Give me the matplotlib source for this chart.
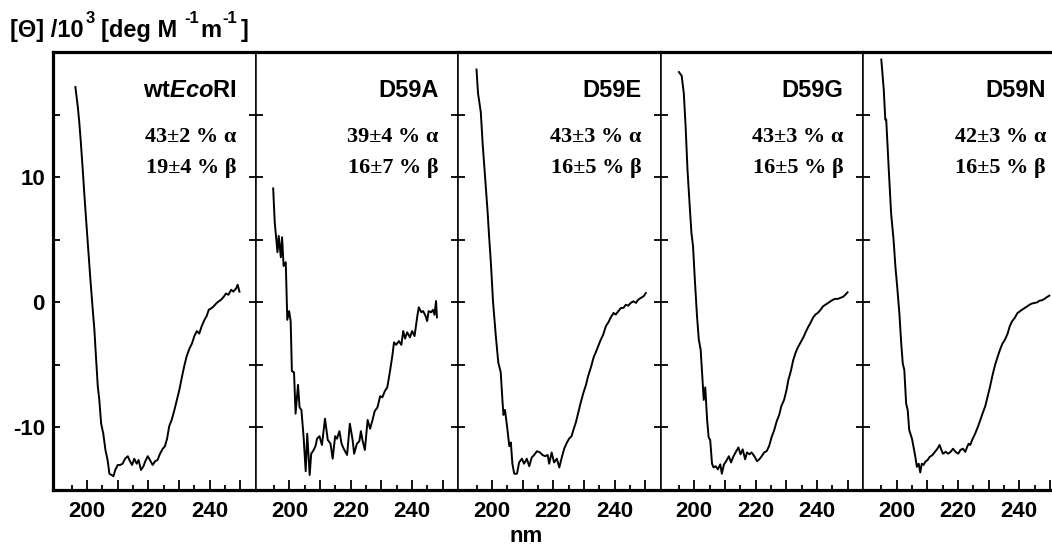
import matplotlib

matplotlib.use("Agg")
import matplotlib.pyplot as plt
from matplotlib.ticker import FixedLocator, FixedFormatter

# CD spectra, [Theta]/10^3 deg M-1 m-1 vs wavelength (nm)
wl_wt = [196.2, 197.0, 197.5, 198.0, 198.6, 199.1, 199.7, 200.4, 201.1, 201.8,
         202.4, 202.9, 203.5, 204.0, 204.6, 205.3, 206.0, 206.7, 207.3, 208.0,
         208.6, 209.2, 210.0, 210.8, 211.6, 212.4, 213.3, 214.0, 214.7, 215.4,
         216.2, 216.8, 217.6, 218.4, 219.0, 219.8, 220.5, 221.4, 222.2, 223.0,
         223.8, 224.7, 225.4, 226.1, 226.8, 227.6, 228.5, 229.2, 230.1, 231.0,
         231.7, 232.5, 233.4, 234.2, 235.0, 235.8, 236.6, 237.4, 238.3, 239.0,
         239.7, 240.4, 241.2, 242.1, 242.8, 243.7, 244.6, 245.3, 246.1, 247.0,
         247.7, 248.6, 249.1, 249.7]
cd_wt = [17.2, 15.6, 14.3, 12.7, 10.6, 8.7, 6.6, 4.2, 1.8, -0.4,
         -2.2, -4.3, -6.7, -7.8, -9.7, -10.5, -11.8, -12.6, -13.7, -13.8,
         -13.9, -13.4, -13.0, -13.0, -12.9, -12.5, -12.3, -12.7, -13.0, -12.5,
         -12.9, -12.6, -13.4, -13.1, -12.7, -12.3, -12.6, -13.0, -12.7, -12.6,
         -12.1, -11.7, -11.5, -10.9, -9.9, -9.4, -8.6, -7.9, -7.0, -5.9,
         -5.1, -4.3, -3.7, -3.3, -2.7, -2.3, -2.5, -1.9, -1.4, -1.1,
         -0.6, -0.5, -0.35, -0.1, 0.05, 0.2, 0.45, 0.7, 0.6, 1.0,
         0.85, 1.1, 1.4, 0.85]

wl_a = [194.7, 195.2, 196.1, 196.5, 197.2, 197.6, 198.1, 198.8, 199.3, 199.9,
        200.4, 200.8, 201.5, 202.0, 202.8, 203.3, 203.9, 204.6, 205.3, 205.8,
        206.6, 207.1, 207.9, 208.5, 209.0, 209.8, 210.6, 211.6, 212.5, 213.4,
        214.1, 214.9, 215.5, 216.3, 217.0, 217.7, 218.8, 219.7, 220.6, 221.1,
        222.0, 222.8, 223.3, 223.8, 224.6, 225.5, 226.3, 227.1, 227.8, 228.7,
        229.6, 230.3, 231.1, 231.9, 232.8, 233.6, 234.1, 234.8, 235.7, 236.5,
        237.1, 237.7, 238.4, 239.3, 240.0, 240.8, 241.7, 242.2, 243.0, 243.6,
        244.4, 244.9, 245.4, 246.2, 246.8, 247.3, 247.8, 248.1]
cd_a = [9.1, 6.4, 4.0, 5.3, 3.6, 5.2, 2.9, 3.2, -1.4, -0.7,
        -1.5, -5.5, -5.6, -8.9, -6.6, -8.4, -8.6, -10.7, -13.5, -10.5,
        -13.8, -12.1, -11.8, -11.5, -10.9, -10.7, -11.4, -9.3, -11.0, -11.3,
        -12.5, -10.7, -10.9, -10.3, -11.3, -11.7, -12.2, -9.7, -11.0, -12.1,
        -11.3, -11.1, -10.3, -11.0, -11.8, -9.4, -10.1, -9.4, -8.7, -8.4,
        -7.5, -7.6, -7.1, -6.8, -5.5, -4.2, -3.2, -3.4, -3.1, -3.4,
        -2.3, -2.9, -2.4, -2.8, -2.3, -2.7, -1.1, -0.4, -0.8, -0.7,
        -1.1, -1.5, -0.7, -0.8, -0.6, -1.0, 0.1, -1.2]

wl_e = [195.0, 195.5, 196.4, 197.0, 197.8, 198.6, 199.1, 199.7, 200.4, 201.3,
        202.1, 202.9, 203.5, 203.8, 204.3, 205.1, 205.7, 206.2, 206.7, 207.3,
        208.2, 208.9, 209.8, 210.5, 211.4, 212.2, 213.0, 213.8, 214.7, 215.7,
        216.5, 217.4, 218.2, 218.7, 219.5, 220.3, 221.2, 222.0, 222.7, 223.6,
        224.5, 225.2, 226.0, 226.6, 227.4, 228.2, 229.0, 229.9, 230.7, 231.4,
        232.3, 233.2, 233.9, 234.7, 235.5, 236.3, 237.2, 238.0, 238.8, 239.7,
        240.4, 241.3, 242.1, 242.9, 243.7, 244.5, 245.3, 246.2, 247.0, 247.7,
        248.6, 249.5, 250.2]
cd_e = [18.6, 16.7, 15.2, 12.7, 10.0, 7.3, 5.3, 3.1, 0.0, -2.7,
        -4.8, -5.6, -8.0, -9.0, -8.6, -10.2, -11.5, -11.2, -12.9, -13.7,
        -13.7, -12.8, -12.5, -12.9, -12.5, -13.1, -12.4, -12.2, -11.9, -12.0,
        -12.2, -12.3, -12.2, -12.9, -12.0, -12.8, -12.5, -13.2, -12.5, -11.7,
        -11.2, -10.9, -10.7, -10.2, -9.6, -8.8, -8.0, -7.2, -6.6, -5.9,
        -5.2, -4.4, -4.0, -3.5, -3.0, -2.6, -1.9, -1.6, -1.2, -0.85,
        -0.98, -0.7, -0.45, -0.45, -0.2, -0.27, -0.05, 0.08, -0.05, 0.2,
        0.35, 0.48, 0.74]

wl_g = [195.0, 195.9, 196.6, 197.2, 197.8, 198.6, 199.1, 199.6, 200.2, 200.9,
        201.5, 202.1, 202.7, 203.1, 203.6, 204.2, 204.7, 205.2, 205.8, 206.3,
        207.0, 207.7, 208.5, 209.0, 209.7, 210.4, 211.3, 212.0, 212.8, 213.7,
        214.4, 215.1, 215.8, 216.6, 217.2, 218.0, 218.7, 219.6, 220.5, 221.2,
        222.0, 222.8, 223.6, 224.4, 225.2, 226.1, 226.9, 227.7, 228.4, 229.3,
        230.1, 230.7, 231.5, 232.3, 233.1, 233.8, 234.7, 235.6, 236.3, 237.1,
        237.9, 238.7, 239.5, 240.3, 241.2, 242.0, 242.8, 243.7, 244.4, 245.3,
        246.0, 246.8, 247.6, 248.5, 249.3, 250.0]
cd_g = [18.4, 18.1, 16.7, 14.0, 10.6, 7.4, 5.5, 4.5, 1.8, -1.1,
        -3.0, -3.8, -6.2, -7.8, -6.8, -9.4, -10.8, -11.0, -12.9, -13.2,
        -13.1, -13.35, -12.95, -13.7, -12.95, -12.7, -12.3, -12.8, -12.3, -11.9,
        -11.6, -12.15, -11.75, -12.55, -12.0, -12.15, -12.0, -12.3, -12.7, -12.55,
        -12.3, -12.0, -11.9, -11.5, -10.8, -10.2, -9.5, -9.0, -8.3, -7.8,
        -7.0, -6.2, -5.5, -4.6, -4.0, -3.6, -3.2, -2.8, -2.4, -2.0,
        -1.65, -1.25, -0.98, -0.85, -0.6, -0.32, -0.19, -0.05, 0.08, 0.21,
        0.27, 0.27, 0.35, 0.43, 0.61, 0.8]

wl_n = [195.0, 195.8, 196.3, 196.6, 197.5, 198.2, 199.0, 199.6, 200.2, 200.9,
        201.5, 202.0, 202.5, 203.1, 203.6, 204.1, 205.0, 205.5, 206.1, 206.6,
        207.2, 207.7, 208.2, 208.8, 209.3, 210.1, 210.8, 211.7, 212.5, 213.3,
        214.0, 214.6, 215.1, 216.0, 216.8, 217.6, 218.4, 219.2, 220.1, 220.8,
        221.6, 222.4, 223.0, 223.5, 224.0, 224.8, 225.6, 226.5, 227.3, 228.0,
        228.9, 229.7, 230.5, 231.2, 232.1, 233.0, 233.7, 234.5, 235.3, 236.2,
        236.9, 237.7, 238.5, 239.4, 240.2, 240.9, 241.8, 242.6, 243.4, 244.1,
        245.0, 245.9, 246.6, 247.4, 248.2, 249.1, 249.8]
cd_n = [19.4, 17.0, 14.6, 14.6, 10.3, 7.1, 5.0, 2.85, 1.2, -0.9,
        -3.3, -4.9, -5.4, -8.1, -8.6, -10.2, -10.9, -11.55, -12.35, -13.15,
        -12.9, -13.6, -12.9, -13.0, -12.75, -12.6, -12.35, -12.2, -11.95, -11.7,
        -11.4, -11.8, -12.1, -11.95, -12.1, -11.95, -11.7, -11.95, -12.1, -11.8,
        -11.7, -11.95, -11.55, -11.3, -11.4, -10.9, -10.5, -9.95, -9.4, -8.9,
        -8.3, -7.5, -6.7, -5.9, -5.0, -4.3, -3.8, -3.3, -3.0, -2.5,
        -1.9, -1.5, -1.25, -0.86, -0.72, -0.59, -0.45, -0.32, -0.19, -0.1,
        -0.05, 0.0, 0.13, 0.16, 0.27, 0.43, 0.53]

names = [r"wt$\mathit{Eco}$RI", "D59A", "D59E", "D59G", "D59N"]
alpha_txt = ["43±2 % α", "39±4 % α", "43±3 % α", "43±3 % α", "42±3 % α"]
beta_txt = ["19±4 % β", "16±7 % β", "16±5 % β", "16±5 % β", "16±5 % β"]
curves = [(wl_wt, cd_wt), (wl_a, cd_a), (wl_e, cd_e), (wl_g, cd_g), (wl_n, cd_n)]

plt.rcParams.update({
    "font.family": "Liberation Sans",
    "font.weight": "bold",
    "mathtext.fontset": "custom",
    "mathtext.rm": "Liberation Sans:bold",
    "mathtext.it": "Liberation Sans:bold:italic",
    "mathtext.bf": "Liberation Sans:bold",
    "mathtext.default": "rm",
    "axes.unicode_minus": False,
})

W, H = 1052, 556
fig = plt.figure(figsize=(W / 100, H / 100), dpi=100)

panel_w = 202.4
for i, (wl, cd) in enumerate(curves):
    left = 53.3 + panel_w * i
    ax = fig.add_axes([left / W, (H - 490) / H, panel_w / W, 438 / H])
    ax.plot(wl, cd, color="black", lw=1.4)
    ax.set_xlim(189, 255)
    ax.set_ylim(-15, 20)

    ax.xaxis.set_major_locator(FixedLocator([200, 210, 220, 230, 240, 250]))
    ax.xaxis.set_major_formatter(FixedFormatter(["200", "", "220", "", "240", ""]))
    ax.xaxis.set_minor_locator(FixedLocator([195, 205, 215, 225, 235, 245]))
    ax.yaxis.set_major_locator(FixedLocator([-10, 0, 10]))
    ax.yaxis.set_major_formatter(FixedFormatter(["-10", "0", "10"]))
    ax.yaxis.set_minor_locator(FixedLocator([-5, 5, 15]))

    ax.tick_params(axis="x", which="major", direction="in", length=7, width=1.3,
                   labelsize=16, pad=8, top=False)
    ax.tick_params(axis="x", which="minor", direction="in", length=3.5, width=1.3, top=False)
    ax.tick_params(axis="y", which="both", direction="in", length=5, width=1.3,
                   left=True, right=True, labelsize=16, pad=6,
                   labelleft=(i == 0))

    for side in ("top", "bottom"):
        ax.spines[side].set_linewidth(2.3)
    ax.spines["left"].set_linewidth(2.3 if i == 0 else 1.1)
    ax.spines["right"].set_linewidth(1.1)

    ax.text(0.905, 0.912, names[i], transform=ax.transAxes, ha="right", va="center",
            fontsize=17, fontweight="bold")
    ax.text(0.905, 0.807, alpha_txt[i], transform=ax.transAxes, ha="right", va="center",
            fontsize=16, family="Liberation Serif", fontweight="bold")
    ax.text(0.905, 0.735, beta_txt[i], transform=ax.transAxes, ha="right", va="center",
            fontsize=16, family="Liberation Serif", fontweight="bold")

# y-axis title, chained piece by piece so superscripts keep plain hyphens
renderer = fig.canvas.get_renderer()
label_parts = [("[Θ] /10", 0, 0), ("3", 1, 2), ("[deg M", 0, 6),
               ("-1", 1, 7), ("m", 0, 1), ("-1", 1, 1), ("]", 0, 4)]
xpx = 10
for txt, sup, gap in label_parts:
    xpx += gap
    t = fig.text(xpx / W, 1 - (23 if sup else 37) / H, txt, ha="left", va="baseline",
                 fontsize=12 if sup else 17, fontweight="bold")
    xpx += t.get_window_extent(renderer).width

fig.text(526 / W, 1 - 537 / H, "nm", ha="center", va="center",
         fontsize=16, fontweight="bold")

fig.savefig("out.png", dpi=100)
